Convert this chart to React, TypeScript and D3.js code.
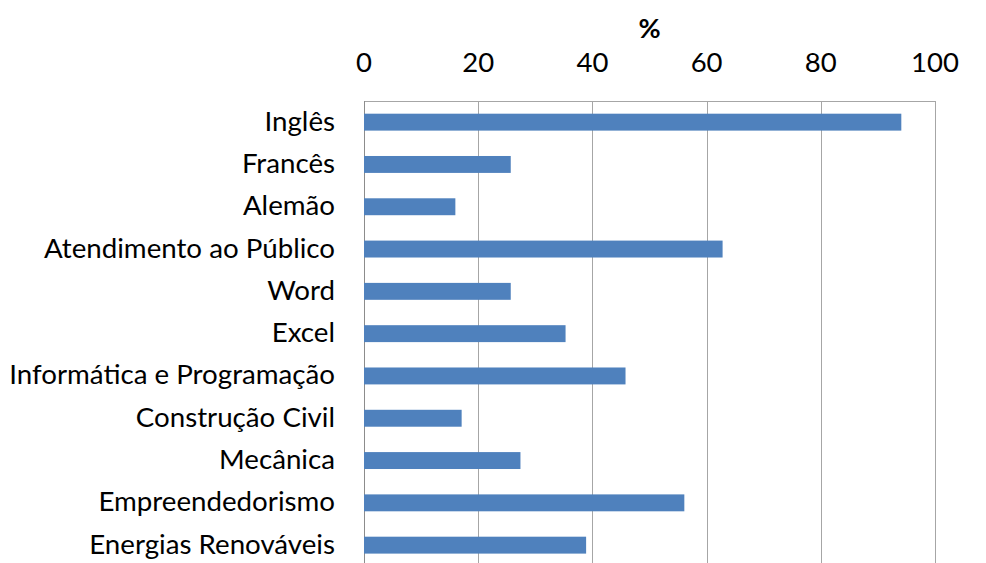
import React from "react";
import * as d3 from "d3";

const categories = [
  "Inglês",
  "Francês",
  "Alemão",
  "Atendimento ao Público",
  "Word",
  "Excel",
  "Informática e Programação",
  "Construção Civil",
  "Mecânica",
  "Empreendedorismo",
  "Energias Renováveis",
];
const values = [94.1, 25.7, 16.0, 62.8, 25.7, 35.3, 45.8, 17.1, 27.4, 56.1, 38.9];
const xTicks = [0, 20, 40, 60, 80, 100];
const axisTitle = "%";

const W = 986;
const H = 563;
const FONT = "Lato, 'Open Sans', sans-serif";

export default function App() {
  const x = d3.scaleLinear().domain([0, 100]).range([364, 935]);
  const y = d3
    .scaleBand<string>()
    .domain(categories)
    .range([101, 101 + 11 * 42.3])
    .paddingInner(0.6)
    .paddingOuter(0.3);
  const top = 101;
  const bottom = 101 + 11 * 42.3;
  return (
    <svg
      width={W}
      height={H}
      style={{ position: "absolute", left: 0, top: 0, background: "#fff" }}
      fontFamily={FONT}
    >
      <rect x={0} y={0} width={W} height={H} fill="#fff" />
      <line x1={x(0)} x2={x(100)} y1={top + 0.5} y2={top + 0.5} stroke="#A6A6A6" strokeWidth={1} />
      {xTicks.map((t) => (
        <line
          key={t}
          x1={Math.round(x(t)) + 0.5}
          x2={Math.round(x(t)) + 0.5}
          y1={top}
          y2={bottom}
          stroke={t === 0 ? "#8C8C8C" : "#A6A6A6"}
          strokeWidth={1}
        />
      ))}
      {xTicks.map((t) => (
        <text
          key={"l" + t}
          x={x(t)}
          y={61}
          textAnchor="middle"
          dominantBaseline="central"
          fontSize={27.5}
          fill="#000"
        >
          {t}
        </text>
      ))}
      <text
        x={(x(0) + x(100)) / 2}
        y={27}
        textAnchor="middle"
        dominantBaseline="central"
        fontSize={27}
        fontWeight="bold"
        fill="#000"
      >
        {axisTitle}
      </text>
      {categories.map((c, i) => (
        <rect
          key={c}
          x={x(0)}
          y={y(c)!}
          width={x(values[i]) - x(0)}
          height={y.bandwidth()}
          fill="#4F81BD"
        />
      ))}
      {categories.map((c) => (
        <text
          key={"c" + c}
          x={335}
          y={y(c)! + y.bandwidth() / 2 - 2}
          textAnchor="end"
          dominantBaseline="central"
          fontSize={27.7}
          fill="#000"
        >
          {c}
        </text>
      ))}
    </svg>
  );
}
